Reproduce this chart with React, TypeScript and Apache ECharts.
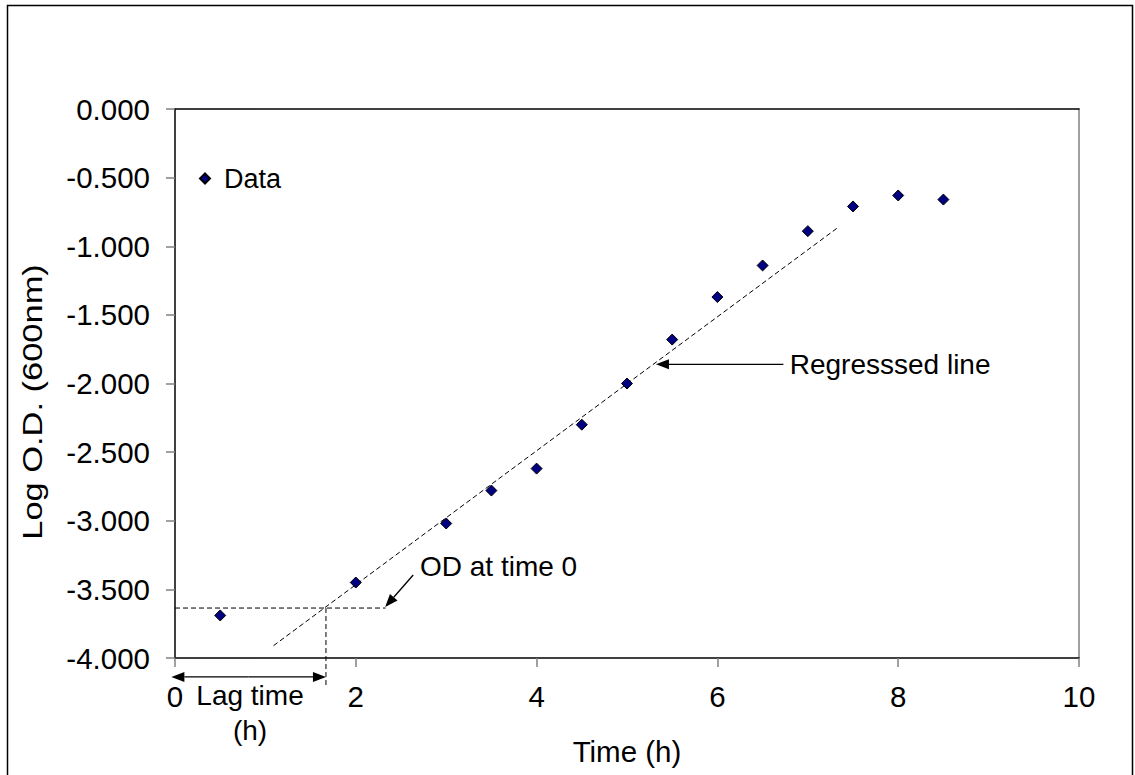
import React, { useEffect, useRef } from "react";
import * as echarts from "echarts";

// ---- data ----
const timeH = [0.5, 2, 3, 3.5, 4, 4.5, 5, 5.5, 6, 6.5, 7, 7.5, 8, 8.5];
const logOD = [-3.69, -3.45, -3.02, -2.78, -2.62, -2.3, -2.0, -1.68, -1.37, -1.14, -0.89, -0.71, -0.63, -0.66];
const regressionLine = [[1.09, -3.91], [7.32, -0.87]];
const odAtTime0 = -3.636;
const odLineEndX = 2.33;
const lagTime = 1.67;
const lagDropY = -4.2;
const lagArrowY = -4.138;
const regArrowTip = [5.32, -1.86];
const regArrowTail = [6.73, -1.86];
const regLabelPos = [6.8, -1.86];
const odArrowTip = [2.325, -3.629];
const odArrowTail = [2.635, -3.395];
const odLabelPos = [2.71, -3.33];
const lagLabelPos = [0.83, -4.4];

const xTicks = { min: 0, max: 10, interval: 2 };
const yTicks = { min: -4, max: 0, interval: 0.5 };

const FONT = "Liberation Sans, Arial, sans-serif";

export default function App() {
  const ref = useRef<HTMLDivElement>(null);

  useEffect(() => {
    if (!ref.current) return;
    const chart = echarts.init(ref.current, undefined, { renderer: "svg" });
    const dashed = { color: "#000", width: 1, type: [5, 3] as any };
    const option: any = {
      animation: false,
      backgroundColor: "#fff",
      grid: { left: 175, top: 109, right: 56, bottom: 117 },
      legend: {
        data: ["Data"],
        left: 194,
        top: 160,
        icon: "diamond",
        itemWidth: 10,
        itemHeight: 10,
        itemGap: 6,
        textStyle: { fontSize: 27, fontFamily: FONT, color: "#000", padding: [0, 0, 0, 9] },
      },
      xAxis: [
        {
          type: "value",
          min: xTicks.min,
          max: xTicks.max,
          interval: xTicks.interval,
          name: "Time (h)",
          nameLocation: "middle",
          nameGap: 78,
          nameTextStyle: { fontSize: 29.5, fontFamily: FONT, color: "#000" },
          axisLine: { show: true, onZero: false, lineStyle: { color: "#000", width: 1.5 } },
          axisTick: { show: true, inside: false, length: 9, lineStyle: { color: "#808080", width: 1.5 } },
          axisLabel: { fontSize: 29.5, fontFamily: FONT, color: "#000", margin: 23 },
          splitLine: { show: false },
        },
        {
          type: "value",
          position: "top",
          min: xTicks.min,
          max: xTicks.max,
          axisLine: { show: true, onZero: false, lineStyle: { color: "#000", width: 1.5 } },
          axisTick: { show: false },
          axisLabel: { show: false },
          splitLine: { show: false },
        },
      ],
      yAxis: [
        {
          type: "value",
          min: yTicks.min,
          max: yTicks.max,
          interval: yTicks.interval,
          axisLine: { show: true, onZero: false, lineStyle: { color: "#000", width: 1.5 } },
          axisTick: { show: true, inside: false, length: 9, lineStyle: { color: "#808080", width: 1.5 } },
          axisLabel: {
            fontSize: 29.5,
            fontFamily: FONT,
            color: "#000",
            margin: 25,
            formatter: (v: number) => v.toFixed(3),
          },
          splitLine: { show: false },
        },
        {
          type: "value",
          position: "right",
          min: yTicks.min,
          max: yTicks.max,
          axisLine: { show: true, onZero: false, lineStyle: { color: "#808080", width: 1.5 } },
          axisTick: { show: false },
          axisLabel: { show: false },
          splitLine: { show: false },
        },
      ],
      series: [
        {
          name: "Regression",
          type: "line",
          data: regressionLine,
          symbol: "none",
          lineStyle: dashed,
          clip: false,
          z: 1,
        },
        {
          name: "OD0",
          type: "line",
          data: [[0, odAtTime0], [odLineEndX, odAtTime0]],
          symbol: "none",
          lineStyle: dashed,
          clip: false,
          z: 1,
        },
        {
          name: "Lag",
          type: "line",
          data: [[lagTime, odAtTime0], [lagTime, lagDropY]],
          symbol: "none",
          lineStyle: dashed,
          clip: false,
          z: 1,
        },
        {
          name: "Data",
          type: "scatter",
          data: timeH.map((t, i) => [t, logOD[i]]),
          symbol: "diamond",
          symbolSize: [11, 11],
          itemStyle: { color: "#000080", borderColor: "#000", borderWidth: 1, opacity: 1 },
          z: 3,
        },
      ],
    };
    chart.setOption(option);

    const px = (p: number[]) => chart.convertToPixel({ gridIndex: 0 }, p) as number[];
    const arrow = (tail: number[], tip: number[], L = 13, W = 10) => {
      const dx = tip[0] - tail[0];
      const dy = tip[1] - tail[1];
      const len = Math.hypot(dx, dy) || 1;
      const ux = dx / len, uy = dy / len;
      const nx = -uy, ny = ux;
      const bx = tip[0] - ux * L, by = tip[1] - uy * L;
      return [
        { type: "line", shape: { x1: tail[0], y1: tail[1], x2: bx, y2: by }, style: { stroke: "#000", lineWidth: 1.3 }, z: 10 },
        {
          type: "polygon",
          shape: { points: [[tip[0], tip[1]], [bx + nx * W / 2, by + ny * W / 2], [bx - nx * W / 2, by - ny * W / 2]] },
          style: { fill: "#000" },
          z: 10,
        },
      ];
    };
    const doubleArrow = (a: number[], b: number[], L = 13, W = 10) => {
      const mid = [(a[0] + b[0]) / 2, (a[1] + b[1]) / 2];
      return [...arrow(mid, a, L, W), ...arrow(mid, b, L, W)];
    };

    const lagL = px([-0.04, lagArrowY]);
    const lagR = px([lagTime, lagArrowY]);
    const regLbl = px(regLabelPos);
    const odLbl = px(odLabelPos);
    const lagLbl = px(lagLabelPos);
    const textStyle = { fontSize: 28, fontFamily: FONT, fill: "#000" };

    chart.setOption({
      graphic: [
        {
          type: "rect",
          shape: { x: 7.5, y: 5.5, width: 1125, height: 820 },
          style: { fill: "none", stroke: "#000", lineWidth: 1.5 },
          silent: true,
          z: 0,
        },
        ...arrow(px(regArrowTail), px(regArrowTip)),
        ...arrow(px(odArrowTail), px(odArrowTip)),
        ...doubleArrow(lagL, lagR),
        {
          type: "text",
          x: regLbl[0],
          y: regLbl[1],
          style: { ...textStyle, text: "Regresssed line", align: "left", verticalAlign: "middle" },
          z: 10,
        },
        {
          type: "text",
          x: odLbl[0],
          y: odLbl[1],
          style: { ...textStyle, text: "OD at time 0", align: "left", verticalAlign: "middle" },
          z: 10,
        },
        {
          type: "text",
          x: lagLbl[0],
          y: lagLbl[1],
          style: { ...textStyle, text: "Lag time\n(h)", align: "center", verticalAlign: "middle", lineHeight: 35 },
          z: 10,
        },
        {
          type: "text",
          x: 33,
          y: 402,
          rotation: Math.PI / 2,
          scaleX: 1.23,
          style: { ...textStyle, text: "Log O.D. (600nm)", align: "center", verticalAlign: "middle" },
          z: 10,
        },
      ],
    });

    return () => chart.dispose();
  }, []);

  return (
    <div
      ref={ref}
      style={{ position: "fixed", left: 0, top: 0, width: 1135, height: 775, background: "#fff" }}
    />
  );
}
